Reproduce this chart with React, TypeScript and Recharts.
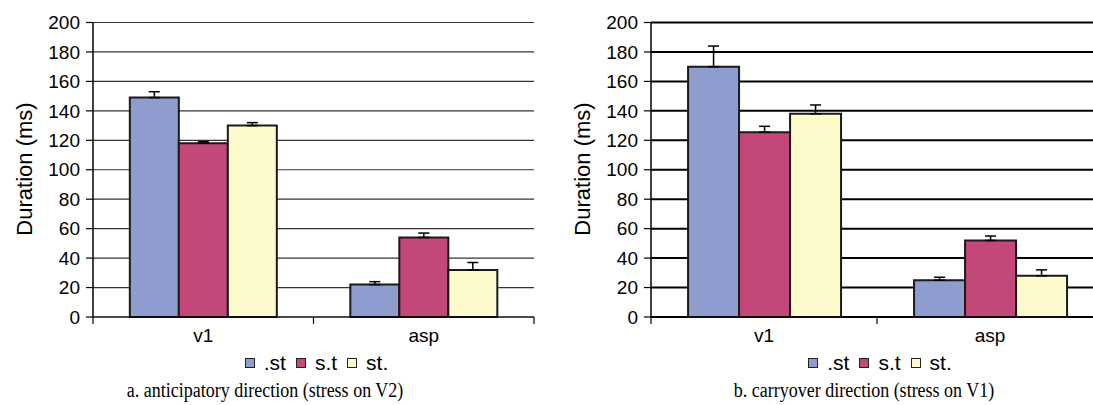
import React from 'react';
import { BarChart, Bar, XAxis, YAxis, CartesianGrid, ErrorBar, Legend } from 'recharts';

const categories = ['v1', 'asp'];
const yTicks = [0, 20, 40, 60, 80, 100, 120, 140, 160, 180, 200];
const seriesNames = ['.st', 's.t', 'st.'];
const seriesColors = ['#8F9DCE', '#C4477A', '#FDFACB'];

// chart a: anticipatory direction
const aSt = [149, 22];
const aSdotT = [118, 54];
const aStDot = [130, 32];
const aStErr = [4, 2];
const aSdotTErr = [1, 3];
const aStDotErr = [2, 5];

// chart b: carryover direction
const bSt = [170, 25];
const bSdotT = [125.5, 52];
const bStDot = [138, 28];
const bStErr = [14, 2];
const bSdotTErr = [4, 3];
const bStDotErr = [6, 4];

const captionA = 'a. anticipatory direction (stress on V2)';
const captionB = 'b. carryover direction (stress on V1)';

const SANS = "'Liberation Sans', Arial, sans-serif";
const SERIF = "'Liberation Serif', 'Times New Roman', serif";

const CHART_W = 560;
const CHART_H = 405;
const Y_W = 93;

function buildRows(a: number[], b: number[], c: number[], ea: number[], eb: number[], ec: number[]) {
  return categories.map((cat, i) => ({
    cat,
    s0: a[i],
    s1: b[i],
    s2: c[i],
    e0: [0, ea[i]],
    e1: [0, eb[i]],
    e2: [0, ec[i]],
  }));
}

const rowsA = buildRows(aSt, aSdotT, aStDot, aStErr, aSdotTErr, aStDotErr);
const rowsB = buildRows(bSt, bSdotT, bStDot, bStErr, bSdotTErr, bStDotErr);

function makeXTick(halfBand: number, count: number) {
  return (props: any) => {
    const { x, y, payload, index } = props;
    return (
      <g>
        <line x1={x - halfBand} y1={y} x2={x - halfBand} y2={y + 7} stroke="#000" strokeWidth={1.2} />
        {index === count - 1 && (
          <line x1={x + halfBand} y1={y} x2={x + halfBand} y2={y + 7} stroke="#000" strokeWidth={1.2} />
        )}
        <text x={x} y={y + 25} textAnchor="middle" fontFamily={SANS} fontSize={19} fill="#000">
          {payload.value}
        </text>
      </g>
    );
  };
}

const LegendContent = () => (
  <div style={{ display: 'flex', justifyContent: 'center', alignItems: 'center', fontFamily: SANS, fontSize: 21, color: '#000', lineHeight: '22px' }}>
    {seriesNames.map((n, i) => (
      <div key={n} style={{ display: 'flex', alignItems: 'center', marginRight: i < seriesNames.length - 1 ? 10 : 0 }}>
        <div style={{ width: 8, height: 8, background: seriesColors[i], border: '1.5px solid #222', marginRight: 9 }} />
        <span>{n}</span>
      </div>
    ))}
  </div>
);

const YLabel = (props: any) => {
  const { viewBox } = props;
  const cx = viewBox.x + viewBox.width - 69;
  const cy = 169;
  return (
    <text x={cx} y={cy} transform={`rotate(-90, ${cx}, ${cy})`} textAnchor="middle" dominantBaseline="central" fontFamily={SANS} fontSize={22} fill="#000">
      Duration (ms)
    </text>
  );
};

function Panel({ rows, marginRight, gridWidth, gridColor, rightBorder, gap }: any) {
  const plotW = CHART_W - Y_W - marginRight;
  const halfBand = plotW / categories.length / 2;
  return (
    <BarChart
      width={CHART_W}
      height={CHART_H}
      data={rows}
      margin={{ top: 22.5, right: marginRight, left: 0, bottom: 58 }}
      barCategoryGap={gap}
      barGap={0}
    >
      <CartesianGrid vertical={false} stroke={gridColor} strokeWidth={gridWidth} />
      <XAxis
        dataKey="cat"
        height={30}
        tickLine={false}
        tickSize={0}
        tickMargin={0}
        axisLine={{ stroke: '#000', strokeWidth: 1.2 }}
        tick={makeXTick(halfBand, categories.length)}
        interval={0}
      />
      <YAxis
        width={Y_W}
        domain={[0, 200]}
        ticks={yTicks}
        interval={0}
        tickSize={7}
        tickMargin={6}
        tickLine={{ stroke: '#000', strokeWidth: 1.2 }}
        axisLine={{ stroke: '#000', strokeWidth: 1.5 }}
        tick={{ fontFamily: SANS, fontSize: 19, fill: '#000' }}
        label={<YLabel />}
      />
      {rightBorder && (
        <YAxis
          yAxisId="border"
          orientation="right"
          width={0}
          domain={[0, 200]}
          tick={false}
          tickLine={false}
          axisLine={{ stroke: '#000', strokeWidth: 1.5 }}
        />
      )}
      {[0, 1, 2].map((i) => (
        <Bar
          key={i}
          dataKey={`s${i}`}
          name={seriesNames[i]}
          fill={seriesColors[i]}
          stroke="#1a1a1a"
          strokeWidth={2}
          isAnimationActive={false}
        >
          <ErrorBar dataKey={`e${i}`} width={5.5} stroke="#000" strokeWidth={1.5} direction="y" />
        </Bar>
      ))}
      <Legend
        layout="horizontal"
        verticalAlign="middle"
        align="center"
        content={<LegendContent />}
        wrapperStyle={{ top: 352, left: Y_W + 3, width: plotW, height: 22 }}
      />
    </BarChart>
  );
}

const captionStyle: React.CSSProperties = {
  position: 'absolute',
  width: 400,
  top: 381,
  height: 22,
  lineHeight: '22px',
  textAlign: 'center',
  fontFamily: SERIF,
  fontSize: 18,
  color: '#000',
  whiteSpace: 'nowrap',
  transform: 'scaleY(1.2)',
  transformOrigin: '50% 100%',
};

export default function App() {
  return (
    <div style={{ position: 'absolute', left: 0, top: 0, width: 1093, height: 405, overflow: 'hidden', background: '#fff' }}>
      <div style={{ position: 'absolute', left: 0, top: 0 }}>
        <Panel rows={rowsA} marginRight={26} gridWidth={1.2} gridColor="#333" rightBorder gap="16.7%" />
      </div>
      <div style={{ position: 'absolute', left: 558, top: 0 }}>
        <Panel rows={rowsB} marginRight={15} gridWidth={2} gridColor="#000" rightBorder={false} gap="16.4%" />
      </div>
      <div style={{ ...captionStyle, left: 65 }}>{captionA}</div>
      <div style={{ ...captionStyle, left: 664 }}>{captionB}</div>
    </div>
  );
}
